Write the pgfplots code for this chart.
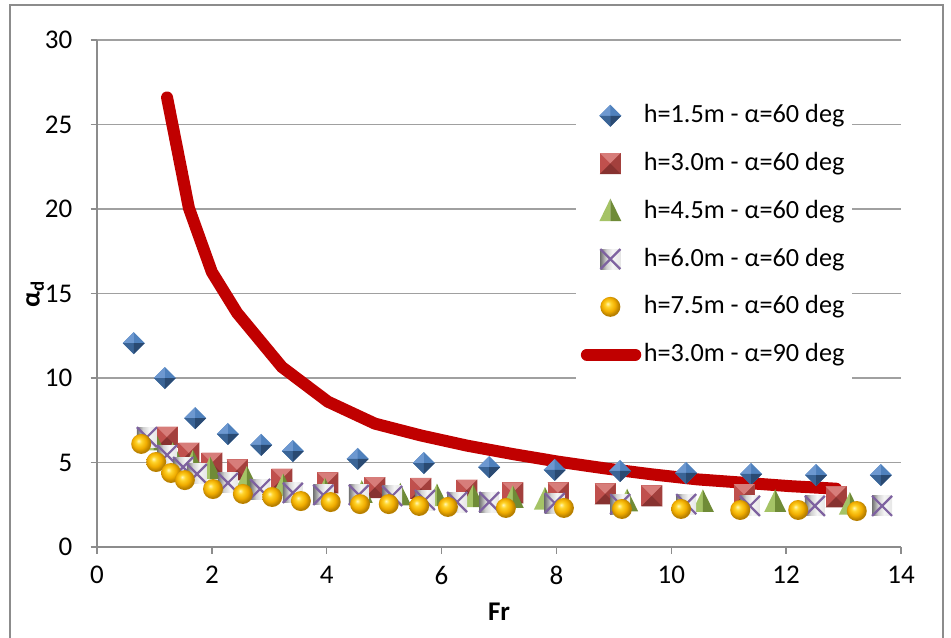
\documentclass[border=0pt]{standalone}
\usepackage{fontspec}
\setmainfont{Carlito}
\usepackage{pgfplots}
\pgfplotsset{compat=1.18}

\definecolor{gridc}{HTML}{A0A0A0}
\definecolor{axisc}{HTML}{8C8C8C}
\definecolor{framec}{HTML}{8C8C8C}
\definecolor{redline}{HTML}{C00000}
% diamond facets
\definecolor{dA}{HTML}{6D98D0}
\definecolor{dB}{HTML}{4F81BD}
\definecolor{dC}{HTML}{3A6496}
\definecolor{dD}{HTML}{2A4A72}
% square facets
\definecolor{sA}{HTML}{D77D7A}
\definecolor{sB}{HTML}{C0504D}
\definecolor{sC}{HTML}{A3403D}
\definecolor{sD}{HTML}{873230}
% triangle halves
\definecolor{tL}{HTML}{A5C366}
\definecolor{tR}{HTML}{6F8B37}
\definecolor{xpur}{HTML}{7E62A0}
% ball
\definecolor{bA}{HTML}{FFF7B8}
\definecolor{bB}{HTML}{FFD42A}
\definecolor{bC}{HTML}{F0AC00}
\definecolor{bD}{HTML}{B88000}

\pgfdeclareradialshading{goldball}{\pgfpoint{-7bp}{8bp}}{%
  color(0bp)=(bA); color(7bp)=(bB); color(17bp)=(bC); color(25bp)=(bD); color(50bp)=(bD)}
\pgfdeclarehorizontalshading{xboxsh}{100bp}{%
  color(0bp)=(black!55); color(25bp)=(black!55); color(40bp)=(black!18);
  color(55bp)=(black!4); color(75bp)=(black!10); color(100bp)=(black!10)}

\pgfdeclareplotmark{pdiam}{%
  \pgfsetfillcolor{dB}%
  \pgfpathmoveto{\pgfpoint{-\pgfplotmarksize}{0pt}}%
  \pgfpathlineto{\pgfpoint{0pt}{\pgfplotmarksize}}%
  \pgfpathlineto{\pgfpoint{\pgfplotmarksize}{0pt}}%
  \pgfpathlineto{\pgfpoint{0pt}{-\pgfplotmarksize}}\pgfpathclose\pgfusepath{fill}%
  \pgfsetfillcolor{dA}%
  \pgfpathmoveto{\pgfpointorigin}\pgfpathlineto{\pgfpoint{-\pgfplotmarksize}{0pt}}%
  \pgfpathlineto{\pgfpoint{0pt}{\pgfplotmarksize}}\pgfpathclose\pgfusepath{fill}%
  \pgfsetfillcolor{dC}%
  \pgfpathmoveto{\pgfpointorigin}\pgfpathlineto{\pgfpoint{-\pgfplotmarksize}{0pt}}%
  \pgfpathlineto{\pgfpoint{0pt}{-\pgfplotmarksize}}\pgfpathclose\pgfusepath{fill}%
  \pgfsetfillcolor{dD}%
  \pgfpathmoveto{\pgfpointorigin}\pgfpathlineto{\pgfpoint{0pt}{-\pgfplotmarksize}}%
  \pgfpathlineto{\pgfpoint{\pgfplotmarksize}{0pt}}\pgfpathclose\pgfusepath{fill}%
}
\pgfdeclareplotmark{psq}{%
  \pgfsetfillcolor{sB}%
  \pgfpathrectangle{\pgfpoint{-\pgfplotmarksize}{-\pgfplotmarksize}}{\pgfpoint{2\pgfplotmarksize}{2\pgfplotmarksize}}\pgfusepath{fill}%
  \pgfsetfillcolor{sA}%
  \pgfpathmoveto{\pgfpointorigin}\pgfpathlineto{\pgfpoint{-\pgfplotmarksize}{\pgfplotmarksize}}%
  \pgfpathlineto{\pgfpoint{\pgfplotmarksize}{\pgfplotmarksize}}\pgfpathclose\pgfusepath{fill}%
  \pgfsetfillcolor{sC}%
  \pgfpathmoveto{\pgfpointorigin}\pgfpathlineto{\pgfpoint{\pgfplotmarksize}{\pgfplotmarksize}}%
  \pgfpathlineto{\pgfpoint{\pgfplotmarksize}{-\pgfplotmarksize}}\pgfpathclose\pgfusepath{fill}%
  \pgfsetfillcolor{sD}%
  \pgfpathmoveto{\pgfpointorigin}\pgfpathlineto{\pgfpoint{-\pgfplotmarksize}{-\pgfplotmarksize}}%
  \pgfpathlineto{\pgfpoint{\pgfplotmarksize}{-\pgfplotmarksize}}\pgfpathclose\pgfusepath{fill}%
}
\pgfdeclareplotmark{ptri}{%
  \pgfsetfillcolor{tL}%
  \pgfpathmoveto{\pgfpoint{0pt}{1.15\pgfplotmarksize}}\pgfpathlineto{\pgfpoint{-\pgfplotmarksize}{-0.9\pgfplotmarksize}}%
  \pgfpathlineto{\pgfpoint{0.05pt}{-0.9\pgfplotmarksize}}\pgfpathclose\pgfusepath{fill}%
  \pgfsetfillcolor{tR}%
  \pgfpathmoveto{\pgfpoint{0pt}{1.15\pgfplotmarksize}}\pgfpathlineto{\pgfpoint{0pt}{-0.9\pgfplotmarksize}}%
  \pgfpathlineto{\pgfpoint{\pgfplotmarksize}{-0.9\pgfplotmarksize}}\pgfpathclose\pgfusepath{fill}%
}
\pgfdeclareplotmark{pxbox}{%
  \pgfpathrectangle{\pgfpoint{-\pgfplotmarksize}{-\pgfplotmarksize}}{\pgfpoint{2\pgfplotmarksize}{2\pgfplotmarksize}}%
  \pgfshadepath{xboxsh}{0}\pgfusepath{discard}%
  \pgfsetstrokecolor{xpur}\pgfsetlinewidth{0.9pt}%
  \pgfpathmoveto{\pgfpoint{-\pgfplotmarksize}{-\pgfplotmarksize}}\pgfpathlineto{\pgfpoint{\pgfplotmarksize}{\pgfplotmarksize}}%
  \pgfpathmoveto{\pgfpoint{-\pgfplotmarksize}{\pgfplotmarksize}}\pgfpathlineto{\pgfpoint{\pgfplotmarksize}{-\pgfplotmarksize}}%
  \pgfusepath{stroke}%
}
\pgfdeclareplotmark{pball}{%
  \pgfpathcircle{\pgfpointorigin}{\pgfplotmarksize}%
  \pgfshadepath{goldball}{0}\pgfusepath{discard}%
}

\begin{document}
\fontsize{10.8pt}{12.8pt}\selectfont
\begin{tikzpicture}
\useasboundingbox (0pt,0pt) rectangle (380.4pt,254.8pt);
\draw[framec, line width=0.8pt] (4pt,-4pt) -- (4pt,252.8pt) -- (377.2pt,252.8pt) -- (377.2pt,-4pt);
\begin{axis}[
  at={(38.8pt,36pt)}, anchor=south west,
  scale only axis, width=321.6pt, height=202.8pt,
  xmin=0, xmax=14, ymin=0, ymax=30,
  xtick={0,2,...,14}, ytick={0,5,...,30},
  axis x line*=bottom, axis y line*=left,
  axis line style={draw=axisc, line width=0.6pt, -},
  tick style={draw=axisc, line width=0.6pt},
  tick align=outside, major tick length=2.6pt,
  ymajorgrids, grid style={draw=gridc, line width=0.6pt},
  /pgf/number format/assume math mode=true,
  yticklabel style={xshift=-3.5pt},
  xticklabel style={yshift=-1.2pt},
  xlabel={\textbf{Fr}},
  ylabel={\textbf{α\textsubscript{d}}},
  xlabel style={at={(axis description cs:0.5,-0.128)}, anchor=center},
  ylabel style={at={(axis description cs:-0.077,0.5)}, anchor=center},
  legend image code/.code={\draw[mark repeat=2,mark phase=2,#1] plot coordinates {(0cm,0cm) (0.42cm,0cm) (0.84cm,0cm)};},
  legend cell align=left,
  legend style={at={(axis description cs:0.595,0.913)}, anchor=north west,
    draw=none, fill=white, row sep=6.2pt, inner xsep=2pt, inner ysep=6pt,
    font=\fontsize{10.5pt}{12.6pt}\selectfont,
    nodes={inner xsep=1pt}},
]
\addplot[forget plot, redline, line width=4.8pt, line cap=round, line join=round] coordinates {
(1.22,26.6) (1.60,20.06) (2.00,16.27) (2.44,13.85) (3.22,10.65) (4.02,8.6)
(4.84,7.3) (5.64,6.6) (6.44,6.0) (7.24,5.5) (8.03,5.05) (8.85,4.65)
(9.66,4.3) (10.46,4.0) (11.27,3.8) (12.07,3.6) (12.87,3.45)};

\addplot[only marks, mark=pdiam, mark size=4.4pt] coordinates {
(0.64,12.07) (1.18,10.0) (1.71,7.63) (2.28,6.69) (2.86,6.04) (3.41,5.68)
(4.54,5.21) (5.69,4.97) (6.83,4.73) (7.97,4.56) (9.11,4.50) (10.26,4.38)
(11.39,4.32) (12.52,4.26) (13.65,4.26)};
\addlegendentry{h=1.5m - α=60 deg}

\addplot[only marks, mark=psq, mark size=4.2pt] coordinates {
(1.22,6.5) (1.60,5.56) (2.00,4.97) (2.44,4.56) (3.22,4.02) (4.02,3.79)
(4.84,3.52) (5.64,3.47) (6.44,3.37) (7.24,3.2) (8.03,3.2) (8.85,3.14)
(9.66,3.02) (11.27,3.1) (12.87,2.96)};
\addlegendentry{h=3.0m - α=60 deg}

\addplot[only marks, mark=ptri, mark size=4.4pt] coordinates {
(0.98,6.3) (1.32,5.45) (1.67,5.0) (1.97,4.6) (2.61,4.05) (3.24,3.6)
(3.97,3.35) (4.61,3.2) (5.28,3.05) (5.92,3.0) (6.55,2.95) (7.24,2.9)
(7.80,2.8) (9.23,2.7) (10.55,2.66) (11.81,2.66) (13.11,2.5)};
\addlegendentry{h=4.5m - α=60 deg}

\addplot[only marks, mark=pxbox, mark size=4pt] coordinates {
(0.87,6.5) (1.22,5.44) (1.50,4.73) (1.74,4.32) (2.28,3.79) (2.84,3.43)
(3.41,3.2) (3.94,3.08) (4.56,3.08) (5.14,3.02) (5.71,2.78) (6.27,2.66)
(6.83,2.66) (7.97,2.6) (9.11,2.54) (10.26,2.54) (11.37,2.43) (12.50,2.43)
(13.67,2.43)};
\addlegendentry{h=6.0m - α=60 deg}

\addplot[only marks, mark=pball, mark size=4pt] coordinates {
(0.77,6.1) (1.03,5.03) (1.29,4.38) (1.53,3.96) (2.02,3.43) (2.54,3.14)
(3.05,2.96) (3.55,2.72) (4.07,2.66) (4.58,2.54) (5.08,2.54) (5.61,2.43)
(6.11,2.37) (7.12,2.31) (8.13,2.31) (9.14,2.25) (10.17,2.25) (11.2,2.19)
(12.21,2.19) (13.23,2.13)};
\addlegendentry{h=7.5m - α=60 deg}

\addlegendimage{legend image code/.code={\draw[redline, line width=4.8pt, line cap=round] (0.09cm,0cm) -- (0.77cm,0cm);}}
\addlegendentry{h=3.0m - α=90 deg}
\end{axis}
\end{tikzpicture}
\end{document}
